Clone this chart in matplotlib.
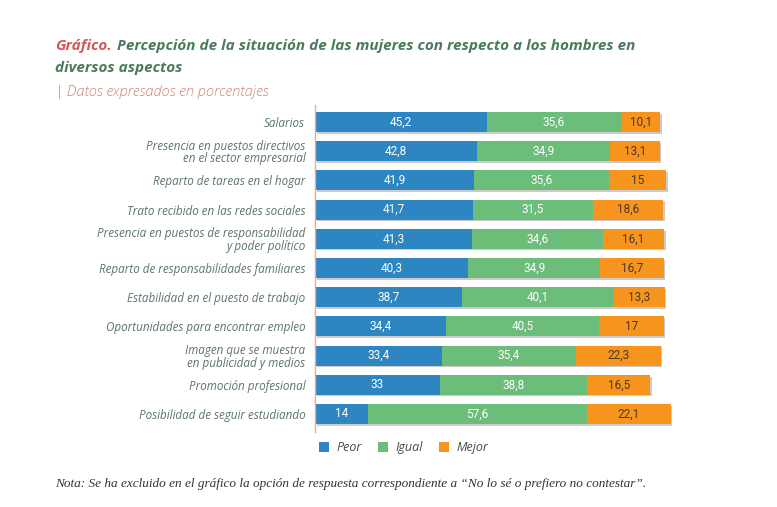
import matplotlib
matplotlib.use("Agg")
import matplotlib.pyplot as plt
import matplotlib.patheffects as pe
import numpy as np

categories = [
    "Salarios",
    "Presencia en puestos directivos\nen el sector empresarial",
    "Reparto de tareas en el hogar",
    "Trato recibido en las redes sociales",
    "Presencia en puestos de responsabilidad\ny poder político",
    "Reparto de responsabilidades familiares",
    "Estabilidad en el puesto de trabajo",
    "Oportunidades para encontrar empleo",
    "Imagen que se muestra\nen publicidad y medios",
    "Promoción profesional",
    "Posibilidad de seguir estudiando",
]
peor = [45.2, 42.8, 41.9, 41.7, 41.3, 40.3, 38.7, 34.4, 33.4, 33, 14]
igual = [35.6, 34.9, 35.6, 31.5, 34.6, 34.9, 40.1, 40.5, 35.4, 38.8, 57.6]
mejor = [10.1, 13.1, 15, 18.6, 16.1, 16.7, 13.3, 17, 22.3, 16.5, 22.1]

series = [("Peor", peor, "#2d86c2", "white"),
          ("Igual", igual, "#6cbc7a", "white"),
          ("Mejor", mejor, "#f7941e", "#4a3a20")]

fig = plt.figure(figsize=(7.77, 5.07), dpi=100)
ax = fig.add_axes((315 / 777, 1 - 431.5 / 507, 379.5 / 777, 327 / 507))

y = np.arange(len(categories))
left = np.zeros(len(categories))
shadow = [pe.SimplePatchShadow(offset=(1.2, -1.2), shadow_rgbFace="#999999", alpha=0.5), pe.Normal()]

for name, vals, col, tcol in series:
    vals = np.array(vals, dtype=float)
    bars = ax.barh(y, vals, left=left, height=0.68, color=col, label=name, path_effects=shadow)
    for b, v, l in zip(bars, vals, left):
        txt = f"{v:g}".replace(".", ",")
        ax.text(l + v / 2, b.get_y() + b.get_height() / 2, txt, ha="center", va="center",
                color=tcol, fontsize=8.5, family="Roboto", fontstretch="condensed")
    left += vals

ax.set_xlim(0, 100)
ax.set_ylim(10.6, -0.6)
ax.set_yticks(y)
ax.set_yticklabels(categories, fontsize=8.4, family="Open Sans", style="italic", color="#5c7566",
                   linespacing=0.95)
ax.tick_params(axis="y", length=0, pad=7)
ax.set_xticks([])
for s in ["top", "right", "bottom"]:
    ax.spines[s].set_visible(False)
ax.spines["left"].set_color("#e8a8a0")
ax.spines["left"].set_linewidth(1)

leg = ax.legend(loc="upper left", bbox_to_anchor=(-0.02, 0.005), ncol=3, frameon=False,
                handlelength=0.8, handleheight=0.8, handletextpad=0.6, columnspacing=1.3,
                prop={"family": "Open Sans", "style": "italic", "size": 9})
for t in leg.get_texts():
    t.set_color("#4a4a4a")
for h in leg.legend_handles:
    h.set_path_effects([])

fig.text(55 / 777, 1 - 46 / 507, "Gráfico.", color="#d0585a", fontsize=11, weight="bold",
         style="italic", family="Open Sans", va="center")
fig.text(117 / 777, 1 - 46 / 507, "Percepción de la situación de las mujeres con respecto a los hombres en",
         color="#4b7a5c", fontsize=11, weight="bold", style="italic", family="Open Sans", va="center")
fig.text(55 / 777, 1 - 68 / 507, "diversos aspectos", color="#4b7a5c", fontsize=11, weight="bold",
         style="italic", family="Open Sans", va="center")
fig.text(55 / 777, 1 - 92 / 507, "| Datos expresados en porcentajes", color="#d0847c", fontsize=10.5,
         style="italic", family="Open Sans", weight="light", va="center")
fig.text(55 / 777, 1 - 484 / 507,
         "Nota: Se ha excluido en el gráfico la opción de respuesta correspondiente a “No lo sé o prefiero no contestar”.",
         color="#333333", fontsize=9.5, style="italic", family="Liberation Serif", va="center")

fig.savefig("out.png", dpi=100)
